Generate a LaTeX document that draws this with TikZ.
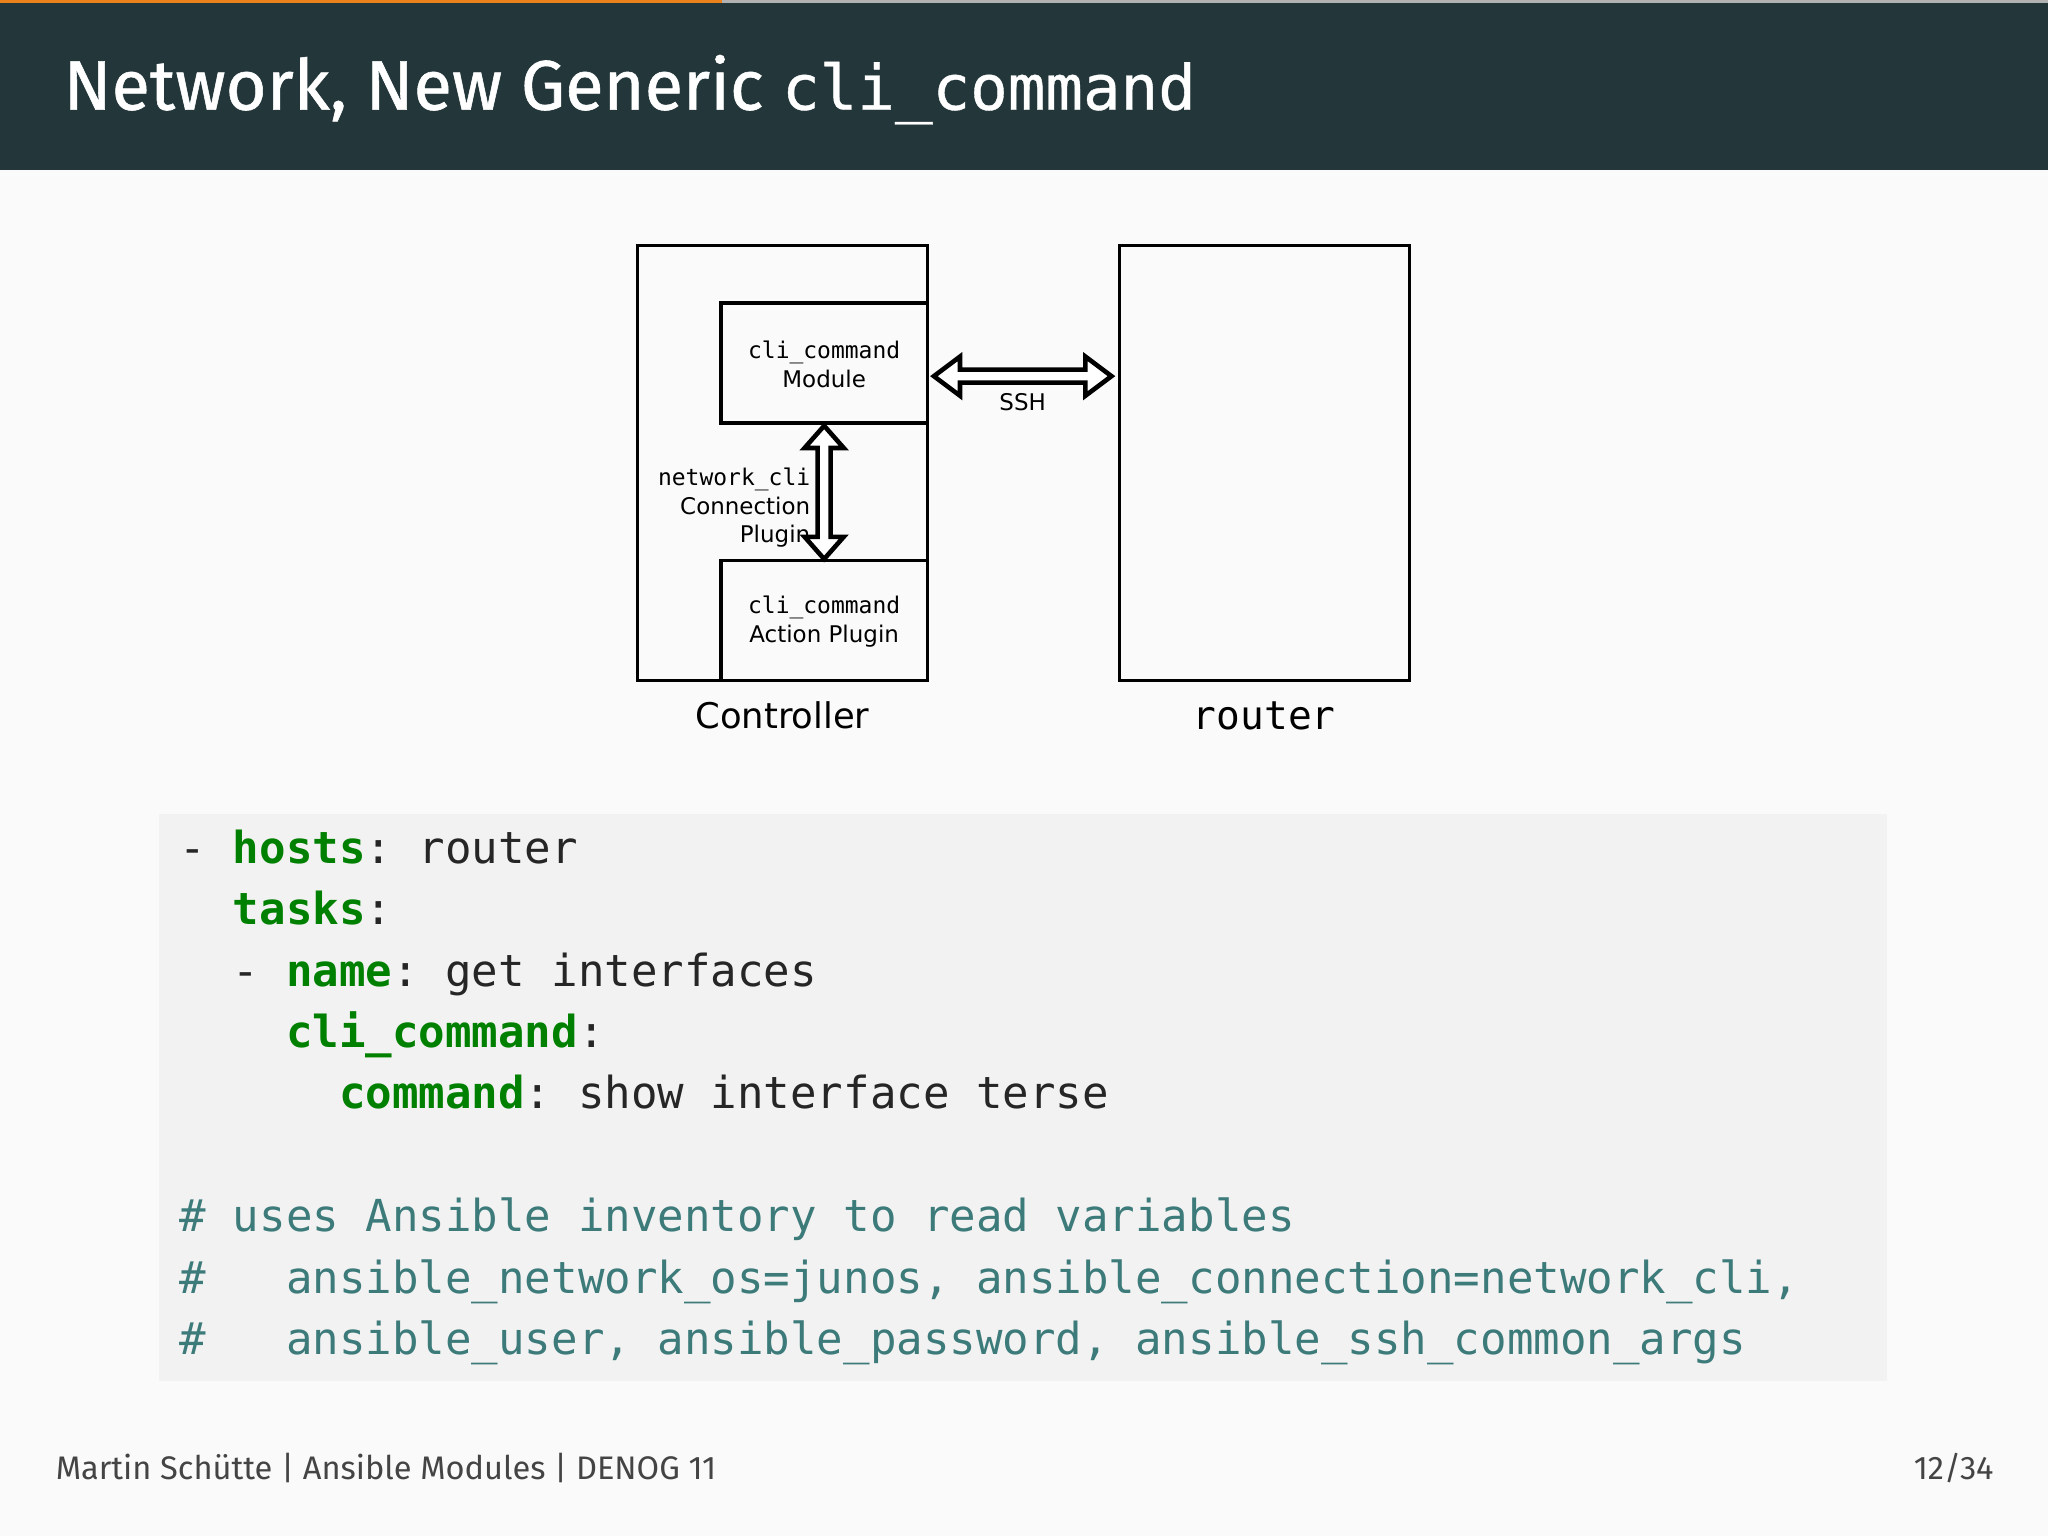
\documentclass[tikz,border=0pt]{standalone}
\usepackage{fontspec}
\setmainfont{Fira Sans}
\setmonofont{DejaVu Sans Mono}
\newfontfamily\dvs{DejaVu Sans}
\newfontfamily\ttl{Fira Sans}[FakeBold=0.8]
\newfontfamily\ttlmono{DejaVu Sans Mono}[FakeBold=0.6]
\definecolor{bar}{HTML}{23373B}
\definecolor{bg}{HTML}{FAFAFA}
\definecolor{codebg}{HTML}{F2F2F2}
\definecolor{key}{HTML}{008000}
\definecolor{cmt}{HTML}{3D7B7B}
\definecolor{orng}{HTML}{EB811B}
\definecolor{foot}{HTML}{444444}
\begin{document}
\begin{tikzpicture}[x=0.01cm,y=-0.01cm,
  box/.style={draw,line width=0.75pt},
  dlabel/.style={font=\dvs\fontsize{5}{6.2}\selectfont,align=center},
  code/.style={anchor=base west,inner sep=0,text=black!85,font=\ttfamily\fontsize{9.6}{12}\selectfont}]
\useasboundingbox (0,0) rectangle (1568,1176);
\fill[bg] (0,0) rectangle (1568,1176);
\fill[bar] (0,0) rectangle (1568,130);
\fill[gray!60] (0,0) rectangle (1568,2);
\fill[orng] (0,0) rectangle (553,2);
\node[anchor=base west,text=white,inner sep=0,font=\ttl\fontsize{15.3}{18}\selectfont] (title) at (48,84) {Network, New Generic {\ttlmono\fontsize{13.6}{18}\selectfont cli\_command}};
% diagram
\draw[box] (488,188) rectangle (710,521);
\draw[box] (552,232) rectangle (710,324);
\draw[box] (552,429) rectangle (710,521);
\draw[box] (857,188) rectangle (1079,521);
\node[dlabel] (mod) at (631,279) {{\ttfamily cli\_command}\\Module};
\node[dlabel] (act) at (631,476) {{\ttfamily cli\_command}\\Action Plugin};
\node[dlabel,align=right,anchor=east,inner sep=0] (ncp) at (621,389) {{\ttfamily network\_cli}\\Connection\\Plugin};
\node[dlabel] (ssh) at (783,308) {SSH};
\draw[line width=1pt,fill=white,line join=miter] (715,288) -- (735,273) -- (735,283) -- (831,283) -- (831,273) -- (851,288) -- (831,303) -- (831,293) -- (735,293) -- (735,303) -- cycle;
\draw[line width=1pt,fill=white,line join=miter] (631,326) -- (646,343) -- (636,343) -- (636,411) -- (646,411) -- (631,428) -- (616,411) -- (626,411) -- (626,343) -- (616,343) -- cycle;
\node[font=\dvs\fontsize{7.7}{10}\selectfont] (cl) at (599,548) {Controller};
\node[font=\ttfamily\fontsize{8.6}{10}\selectfont] (rl) at (968,548) {router};
% code
\fill[codebg] (122,623) rectangle (1445,1057);
\node[code] (c1) at (137,661) {- \textcolor{key}{\bfseries hosts}: router};
\node[code] (c2) at (137,708) {\phantom{- }\textcolor{key}{\bfseries tasks}:};
\node[code] (c3) at (137,755) {\phantom{- }- \textcolor{key}{\bfseries name}: get interfaces};
\node[code] (c4) at (137,802) {\phantom{- - }\textcolor{key}{\bfseries cli\_command}:};
\node[code] (c5) at (137,849) {\phantom{- - - }\textcolor{key}{\bfseries command}: show interface terse};
\node[code,text=cmt] (c6) at (137,943) {\# uses Ansible inventory to read variables};
\node[code,text=cmt] (c7) at (137,990) {\#\ \ \ ansible\_network\_os=junos, ansible\_connection=network\_cli,};
\node[code,text=cmt] (c8) at (137,1037) {\#\ \ \ ansible\_user, ansible\_password, ansible\_ssh\_common\_args};
% footer
\node[anchor=base west,inner sep=0,text=foot,font=\fontsize{7.1}{9}\selectfont] (f1) at (42,1133) {Martin Schütte | Ansible Modules | DENOG 11};
\node[anchor=base east,inner sep=0,text=foot,font=\fontsize{7.1}{9}\selectfont] (f2) at (1527,1133) {12/34};
\end{tikzpicture}
\end{document}
